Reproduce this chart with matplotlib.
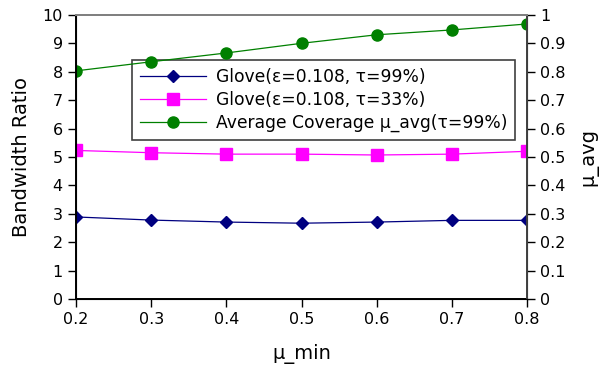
import matplotlib
matplotlib.use('Agg')
from matplotlib import pyplot as plt

mu_min = [0.2, 0.3, 0.4, 0.5, 0.6, 0.7, 0.8]
glove_99 = [2.89, 2.78, 2.71, 2.67, 2.71, 2.77, 2.77]
glove_33 = [5.23, 5.15, 5.10, 5.10, 5.07, 5.10, 5.20]
coverage = [0.803, 0.835, 0.866, 0.90, 0.93, 0.947, 0.968]

fig = plt.figure(figsize=(6, 3.72), dpi=100)
ax = fig.add_axes([0.1267, 0.196, 0.7517, 0.764])
ax2 = ax.twinx()

l1, = ax.plot(mu_min, glove_99, color='#000080', lw=0.9, marker='D', ms=6,
              label='Glove(ε=0.108, τ=99%)')
l2, = ax.plot(mu_min, glove_33, color='#ff00ff', lw=0.9, marker='s', ms=8,
              label='Glove(ε=0.108, τ=33%)')
l3, = ax2.plot(mu_min, coverage, color='#008000', lw=0.9, marker='o', ms=8,
               label='Average Coverage μ_avg(τ=99%)')

ax.set_xlim(0.2, 0.8)
ax.set_ylim(0, 10)
ax2.set_ylim(0, 1)
ax.set_xticks(mu_min)
ax.set_xticklabels(['0.2', '0.3', '0.4', '0.5', '0.6', '0.7', '0.8'])
ax.set_yticks(range(11))
ax2.set_yticks([i / 10 for i in range(11)])
ax2.set_yticklabels(['0', '0.1', '0.2', '0.3', '0.4', '0.5', '0.6', '0.7', '0.8', '0.9', '1'])

for a in (ax, ax2):
    a.tick_params(direction='out', length=6, width=1, labelsize=11.5)
ax.set_xlabel('μ_min', fontsize=14, labelpad=12)
ax.set_ylabel('Bandwidth Ratio', fontsize=14, labelpad=8)
ax2.set_ylabel('μ_avg', fontsize=14, labelpad=10)

ax.spines['left'].set_linewidth(1.4)
ax.spines['bottom'].set_linewidth(1.4)
ax.spines['top'].set_color('#808080')
ax.spines['top'].set_linewidth(1.4)
ax2.spines['top'].set_color('#808080')
ax2.spines['top'].set_linewidth(1.4)
ax2.spines['right'].set_color('#404040')
ax2.spines['right'].set_linewidth(1.4)

leg = ax.legend(handles=[l1, l2, l3], loc='upper left', bbox_to_anchor=(0.124, 0.84),
                fontsize=12.3, frameon=True, fancybox=False, handlelength=3.9,
                handletextpad=0.55, borderpad=0.45, labelspacing=0.28,
                borderaxespad=0, edgecolor='#404040', framealpha=1)
leg.get_frame().set_linewidth(1.2)

fig.savefig('out.png', dpi=100)
